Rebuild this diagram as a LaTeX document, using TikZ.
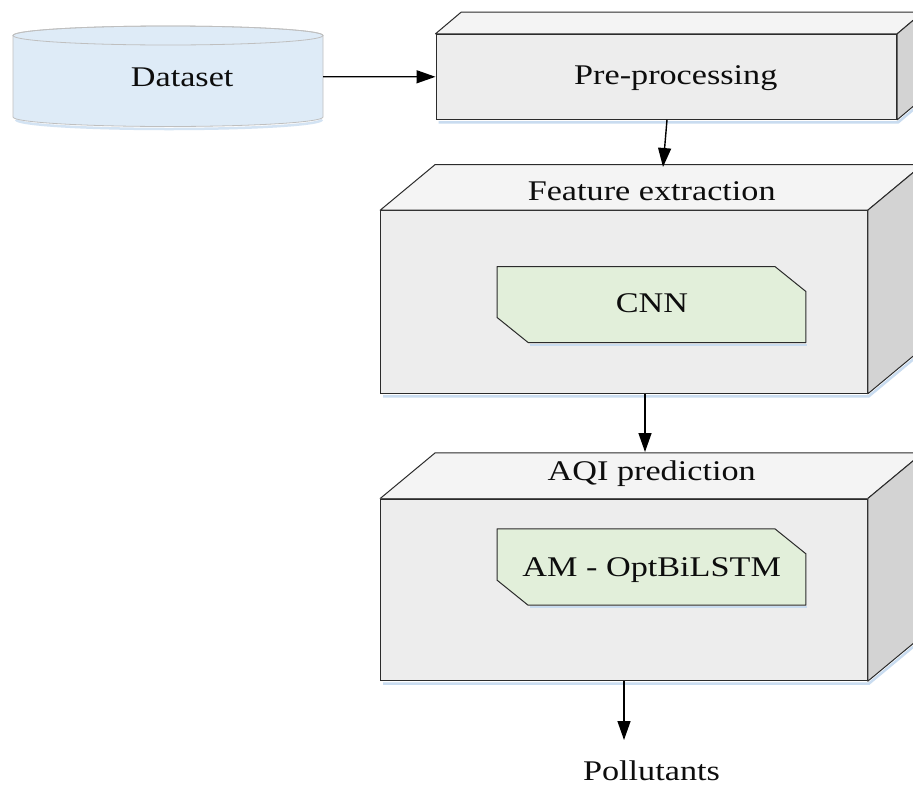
\documentclass[tikz,border=0pt]{standalone}
\usepackage{fontspec}
\setmainfont{Liberation Serif}
\usetikzlibrary{arrows.meta,calc}
\definecolor{frontc}{HTML}{EDEDED}
\definecolor{topc}{HTML}{F4F4F4}
\definecolor{sidec}{HTML}{D3D3D3}
\definecolor{edgec}{HTML}{2B2B2B}
\definecolor{greenc}{HTML}{E2EFDA}
\definecolor{bluec}{HTML}{DEEBF7}
\definecolor{cylline}{HTML}{BFBFBF}
\definecolor{shadowc}{HTML}{C9DCF0}
\newcommand\stretchlbl[1]{\scalebox{1.2}[1]{#1}}
\begin{document}
\begin{tikzpicture}[x=1pt,y=-1pt,
  lbl/.style={font=\fontsize{28.5}{34}\selectfont, text=black!95, inner sep=0pt, anchor=base},
  front/.style={draw=edgec, line width=1pt, fill=frontc, rectangle, inner sep=0pt},
  face/.style={draw=edgec, line width=1pt, line join=round},
  glow/.style={draw=shadowc, line width=2.5pt},
  holder/.style={inner sep=0pt, rectangle},
  conn/.style={draw=black, line width=1.4pt, -{Triangle[length=19pt,width=13pt]}}]
\useasboundingbox (0,0) rectangle (913,785);
\clip (0,0) rectangle (913,785);
\fill[white] (0,0) rectangle (913,785);

% Dataset cylinder
\draw[glow, opacity=.8] (16,119.5) arc[start angle=180, end angle=0, x radius=153, y radius=9.5];
\path[draw=cylline, fill=bluec, line width=0.8pt] (13,35.5) -- (13,117)
  arc[start angle=180, end angle=0, x radius=155, y radius=9.5] -- (323,35.5)
  arc[start angle=360, end angle=180, x radius=155, y radius=9.5] -- cycle;
\draw[cylline, line width=0.8pt] (168,35.5) ellipse[x radius=155, y radius=9.5];
\node[holder, minimum width=310pt, minimum height=81.5pt] (ds) at (168,76.7) {};
\node[lbl] (dsT) at (182.2,86.7) {\stretchlbl{Dataset}};

% Pre-processing box
\node[front, minimum width=460.7pt, minimum height=85pt] (pre) at (666.35,76.8) {};
\draw[face, fill=topc] (pre.north west) -- ++(25.7,-21.7) -- ($(pre.north east)+(25.7,-21.7)$) -- (pre.north east) -- cycle;
\draw[face, fill=sidec] (pre.north east) -- ++(25.7,-21.7) -- ($(pre.south east)+(25.7,-21.7)$) -- (pre.south east) -- cycle;
\draw[glow] ($(pre.south west)+(3,2.5)$) -- ($(pre.south east)+(1,2.5)$) -- ++(25.7,-21.7);
\node[lbl] (preT) at (675.8,84.3) {\stretchlbl{Pre-processing}};

% Feature extraction box
\node[front, minimum width=486.6pt, minimum height=182.6pt] (feat) at (624,302) {};
\draw[face, fill=topc] (feat.north west) -- ++(55,-45.7) -- ($(feat.north east)+(55,-45.7)$) -- (feat.north east) -- cycle;
\draw[face, fill=sidec] (feat.north east) -- ++(55,-45.7) -- ($(feat.south east)+(55,-45.7)$) -- (feat.south east) -- cycle;
\draw[glow] ($(feat.south west)+(3,2.5)$) -- ($(feat.south east)+(1,2.5)$) -- ++(55,-45.7);
\node[lbl] (featT) at (651.7,200.7) {\stretchlbl{Feature extraction}};
\node[holder, minimum width=308.4pt, minimum height=75.6pt] (cnn) at (651.5,304.5) {};
\draw[glow, line width=2pt] ($(cnn.south west)+(33,2.2)$) -- ($(cnn.south east)+(1,2.2)$);
\draw[face, fill=greenc] (cnn.north west) -- ($(cnn.north east)+(-31,0)$) -- ($(cnn.north east)+(0,25)$) -- (cnn.south east) -- ($(cnn.south west)+(31,0)$) -- ($(cnn.south west)+(0,-25)$) -- cycle;
\node[lbl] (cnnT) at (652,312.3) {\stretchlbl{CNN}};

% AQI prediction box
\node[front, minimum width=486.6pt, minimum height=181.7pt] (aqi) at (624,589.85) {};
\draw[face, fill=topc] (aqi.north west) -- ++(55,-45.7) -- ($(aqi.north east)+(55,-45.7)$) -- (aqi.north east) -- cycle;
\draw[face, fill=sidec] (aqi.north east) -- ++(55,-45.7) -- ($(aqi.south east)+(55,-45.7)$) -- (aqi.south east) -- cycle;
\draw[draw=edgec!80, line width=1.6pt] (aqi.north west) -- (aqi.north east);
\draw[glow] ($(aqi.south west)+(3,2.5)$) -- ($(aqi.south east)+(1,2.5)$) -- ++(55,-45.7);
\node[lbl] (aqiT) at (651.7,480) {\stretchlbl{AQI prediction}};
\node[holder, minimum width=308.4pt, minimum height=76pt] (am) at (651.5,567) {};
\draw[glow, line width=2pt] ($(am.south west)+(33,2.2)$) -- ($(am.south east)+(1,2.2)$);
\draw[face, fill=greenc] (am.north west) -- ($(am.north east)+(-31,0)$) -- ($(am.north east)+(0,25)$) -- (am.south east) -- ($(am.south west)+(31,0)$) -- ($(am.south west)+(0,-25)$) -- cycle;
\node[lbl] (amT) at (651.7,576.7) {\stretchlbl{AM - OptBiLSTM}};

% Output label
\node[lbl] (pol) at (651.5,780.5) {\stretchlbl{Pollutants}};

% Connectors
\coordinate (featTop) at (663,167);
\coordinate (aqiTop) at (645,452);
\coordinate (outEnd) at (624,740);
\draw[conn] (ds.east) -- (pre.west);
\draw[conn] ($(pre.south)+(0.65,0)$) -- (featTop);
\draw[conn] (feat.south -| aqiTop) -- (aqiTop);
\draw[conn] (aqi.south) -- (outEnd);
\end{tikzpicture}
\end{document}
